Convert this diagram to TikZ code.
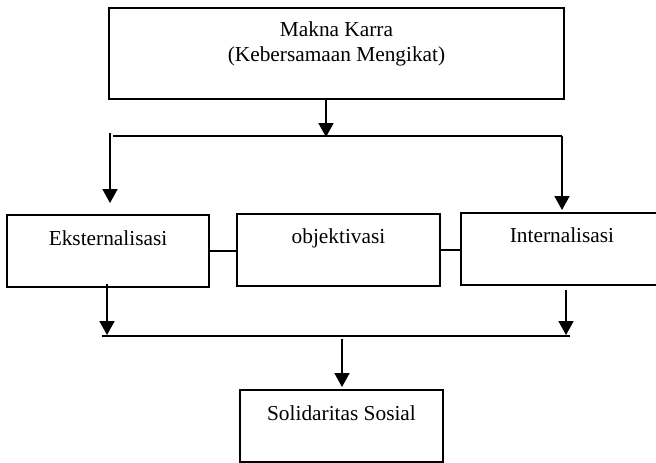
\documentclass[tikz,border=0pt]{standalone}
\usepackage{fontspec}
\setmainfont{Liberation Serif}
\usetikzlibrary{arrows.meta,calc}
\begin{document}
\begin{tikzpicture}[x=0.75pt,y=-0.75pt,
  box/.style={draw,line width=1.3pt,inner sep=0pt,anchor=north,font=\fontsize{16}{18.75}\selectfont},
  arr/.style={line width=1.3pt,-{Triangle[length=10.5pt,width=11.25pt]}},
  ln/.style={line width=1.3pt}]
\useasboundingbox (0,0) rectangle (656,462);
% boxes
\node[box,minimum width=341.25pt,align=center,text height=40.5pt,text depth=27.75pt] (makna) at (336.5,7) {Makna Karra\\(Kebersamaan Mengikat)};
\node[box,minimum width=151.5pt,text height=23.25pt,text depth=30.75pt] (ekst) at (108,214) {Eksternalisasi};
\node[box,minimum width=152.25pt,text height=22.5pt,text depth=31.5pt] (objek) at (338.5,213) {objektivasi};
\node[box,minimum width=151.5pt,text height=22.5pt,text depth=31.5pt] (intern) at (562,212) {Internalisasi};
\node[box,minimum width=152.25pt,text height=23.25pt,text depth=30.75pt] (solid) at (341.5,389) {Solidaritas Sosial};
% branch points
\coordinate (bl) at (110,136);
\coordinate (bm) at (326,136);
\coordinate (br) at (562,136);
\coordinate (jl) at (107,336);
\coordinate (jm) at (342,336);
\coordinate (jr) at (566,336);
% upper part
\draw[arr] (makna.south -| bm) -- ($(bm)+(0,1)$);
\draw[ln] ($(bl)+(3,0)$) -- (br);
\draw[arr] ($(bl)+(0,-3)$) -- ($(ekst.north -| bl)+(0,-11)$);
\draw[arr] (br) -- ($(intern.north -| br)+(0,-2)$);
% middle links
\draw[ln] (ekst.east) -- (ekst.east -| objek.west);
\draw[ln] (objek.east) -- (objek.east -| intern.west);
% lower part
\draw[arr] ($(ekst.south -| jl)+(0,-4)$) -- ($(jl)+(0,-1)$);
\draw[arr] ($(intern.south -| jr)+(0,4)$) -- ($(jr)+(0,-1)$);
\draw[ln] ($(jl)+(-5,0)$) -- ($(jr)+(4,0)$);
\draw[arr] ($(jm)+(0,3)$) -- ($(solid.north -| jm)+(0,-2)$);
\end{tikzpicture}
\end{document}
